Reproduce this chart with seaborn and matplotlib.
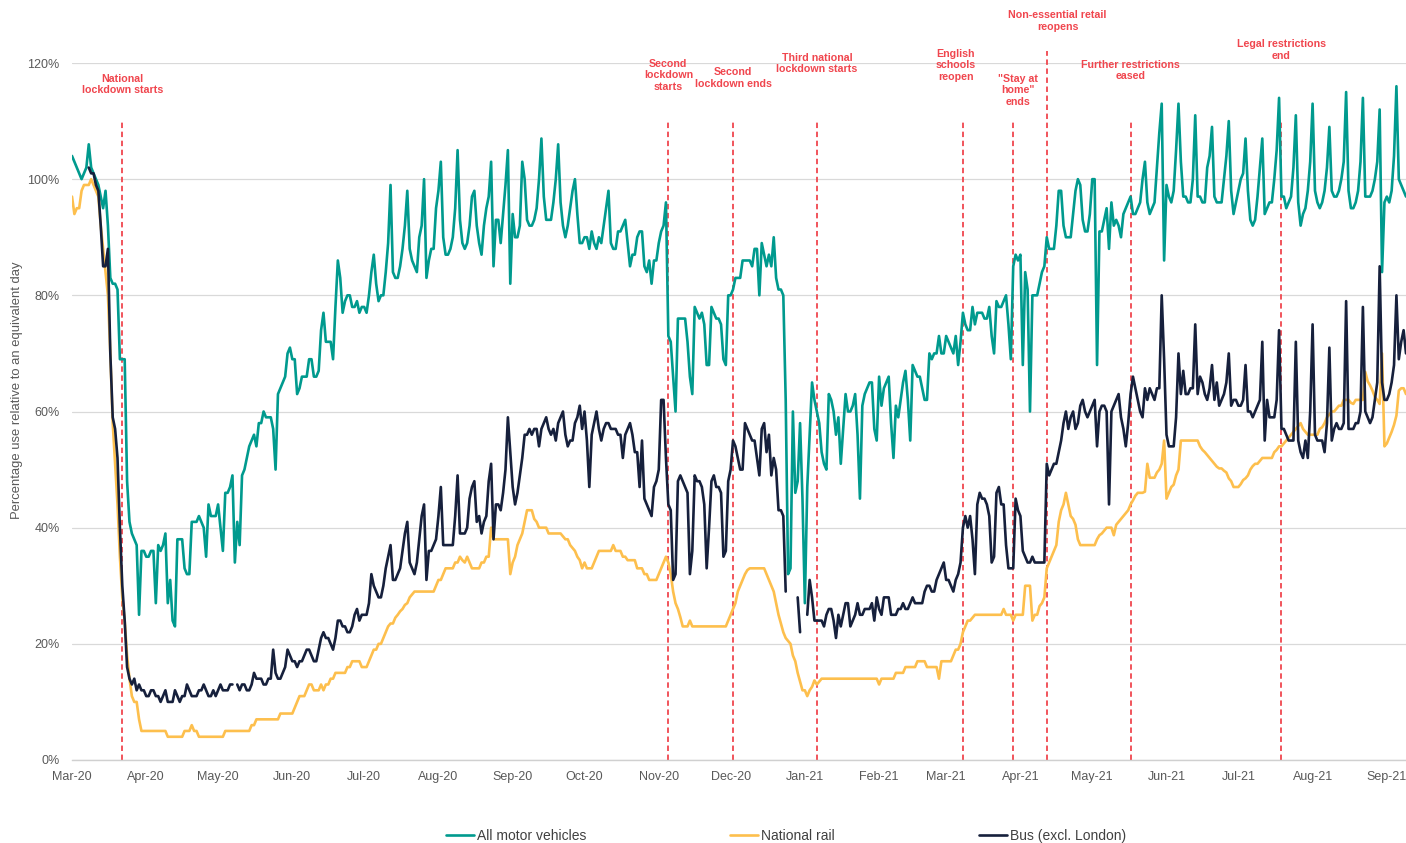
import numpy as np
import pandas as pd
import matplotlib
matplotlib.use("Agg")
import matplotlib.pyplot as plt
import matplotlib.dates as mdates
import seaborn as sns

nan = np.nan

# daily values from 1 March 2020, one row per week (Sun-Sat)
start_date = "2020-03-01"

motor = [
    104, 103, 102, 101, 100, 101, 102,
    106, 102, 101, 100, 99, 97, 95,
    98, 92, 83, 82, 82, 81, 69,
    69, 69, 48, 41, 39, 38, 37,
    25, 36, 36, 35, 35, 36, 36,
    27, 37, 36, 37, 39, 27, 31,
    24, 23, 38, 38, 38, 33, 32,
    32, 41, 41, 41, 42, 41, 40,
    35, 44, 42, 42, 42, 44, 40,
    36, 46, 46, 47, 49, 34, 41,
    37, 49, 50, 52, 54, 55, 56,
    54, 58, 58, 60, 59, 59, 59,
    57, 50, 63, 64, 65, 66, 70,
    71, 69, 69, 63, 64, 66, 66,
    66, 69, 69, 66, 66, 67, 74,
    77, 72, 72, 72, 69, 78, 86,
    83, 77, 79, 80, 80, 78, 78,
    79, 77, 78, 78, 77, 80, 84,
    87, 82, 79, 80, 80, 84, 89,
    99, 84, 83, 83, 85, 88, 92,
    98, 88, 86, 85, 84, 90, 92,
    100, 83, 86, 88, 88, 95, 98,
    103, 90, 87, 87, 88, 90, 95,
    105, 93, 89, 88, 89, 92, 97,
    98, 92, 89, 87, 92, 95, 97,
    103, 85, 93, 93, 89, 94, 99,
    105, 82, 94, 90, 90, 92, 103,
    100, 93, 92, 92, 93, 95, 100,
    107, 97, 93, 93, 93, 96, 100,
    106, 96, 92, 90, 92, 95, 98,
    100, 94, 89, 89, 90, 90, 88,
    91, 89, 88, 90, 89, 92, 95,
    98, 89, 88, 88, 91, 91, 92,
    93, 89, 85, 87, 87, 90, 91,
    91, 85, 84, 86, 82, 86, 86,
    89, 91, 92, 96, 73, 72, 66,
    60, 76, 76, 76, 76, 72, 66,
    63, 78, 77, 76, 77, 75, 68,
    68, 78, 77, 76, 76, 75, 69,
    68, 80, 80, 81, 83, 83, 83,
    86, 86, 86, 86, 85, 88, 88,
    80, 89, 87, 85, 87, 85, 90,
    83, 81, 81, 80, 62, 32, 33,
    60, 46, 48, 58, 45, 27, 47,
    56, 65, 62, 60, 58, 53, 51,
    50, 63, 62, 60, 56, 59, 51,
    57, 63, 60, 60, 61, 63, 56,
    45, 61, 63, 64, 65, 65, 57,
    55, 66, 61, 64, 65, 66, 58,
    52, 61, 59, 62, 65, 67, 62,
    55, 68, 67, 66, 66, 64, 62,
    62, 70, 69, 70, 70, 73, 70,
    70, 73, 72, 71, 70, 73, 68,
    72, 77, 75, 74, 74, 78, 75,
    77, 77, 77, 76, 76, 78, 73,
    70, 79, 78, 78, 79, 80, 75,
    69, 85, 87, 86, 87, 68, 84,
    81, 60, 80, 80, 80, 82, 84,
    85, 90, 88, 88, 88, 92, 98,
    98, 92, 90, 90, 90, 94, 98,
    100, 99, 93, 91, 91, 94, 100,
    100, 68, 91, 91, 93, 95, 88,
    96, 92, 93, 92, 90, 94, 95,
    96, 97, 94, 94, 95, 96, 100,
    103, 96, 94, 95, 96, 102, 108,
    113, 86, 99, 97, 96, 98, 105,
    113, 103, 97, 97, 96, 96, 100,
    111, 97, 97, 96, 96, 102, 104,
    109, 97, 96, 96, 96, 100, 104,
    110, 98, 94, 96, 98, 100, 101,
    107, 98, 93, 92, 93, 97, 102,
    107, 94, 95, 96, 96, 100, 105,
    114, 97, 97, 95, 96, 97, 102,
    111, 96, 92, 94, 95, 98, 103,
    113, 98, 96, 95, 96, 98, 102,
    109, 98, 97, 97, 98, 100, 103,
    115, 98, 95, 95, 96, 98, 103,
    114, 97, 97, 97, 98, 100, 103,
    112, 84, 96, 97, 96, 98, 104,
    116, 100, 99, 98, 97,
]

rail = [
    97, 94, 95, 95, 98, 99, 99,
    99, 100, 99, 98, 97, 92, 88,
    84, 80, 70, 58, 51, 44, 35,
    28, 24, 18, 14, 11, 10, 10,
    7, 5, 5, 5, 5, 5, 5,
    5, 5, 5, 5, 5, 4, 4,
    4, 4, 4, 4, 4, 5, 5,
    5, 6, 5, 5, 4, 4, 4,
    4, 4, 4, 4, 4, 4, 4,
    4, 5, 5, 5, 5, 5, 5,
    5, 5, 5, 5, 5, 6, 6,
    7, 7, 7, 7, 7, 7, 7,
    7, 7, 7, 8, 8, 8, 8,
    8, 8, 9, 10, 11, 11, 11,
    12, 13, 13, 12, 12, 12, 13,
    12, 13, 13, 14, 14, 15, 15,
    15, 15, 15, 16, 16, 17, 17,
    17, 17, 16, 16, 16, 17, 18,
    19, 19, 20, 20, 21, 22, 23,
    23.5, 23.5, 24.5, 25, 25.6, 26, 26.7,
    27, 28, 28.5, 29, 29, 29, 29,
    29, 29, 29, 29, 29, 30, 31,
    31, 32, 33, 33, 33, 33, 34,
    34, 35, 34.4, 34, 35, 34, 33,
    33, 33, 33, 34, 34, 35, 35,
    40, 38, 38, 38, 38, 38, 38,
    38, 32, 34, 35, 37, 38, 39,
    41, 43, 43, 43, 41.5, 41, 40,
    40, 40, 40, 39, 39, 39, 39,
    39, 39, 38.5, 38, 38, 37, 36.5,
    36, 35, 34.4, 33, 34, 33, 33,
    33, 34, 35, 36, 36, 36, 36,
    36, 36, 37, 36, 36, 36, 35,
    35, 34.4, 34.4, 34.4, 34.4, 33, 33,
    33, 32, 32, 31, 31, 31, 31,
    32, 33, 34, 35, 34, 32, 29,
    27, 26, 24.6, 23, 23, 23, 24,
    23, 23, 23, 23, 23, 23, 23,
    23, 23, 23, 23, 23, 23, 23,
    23, 24, 25, 26, 27, 29, 30,
    31, 32, 32.7, 33, 33, 33, 33,
    33, 33, 33, 32, 31, 30, 29,
    27, 25, 23.5, 22, 21, 20.5, 20,
    18, 17, 15, 13.5, 12, 12, 11,
    12, 12.6, 13.7, 13, 13.5, 14, 14,
    14, 14, 14, 14, 14, 14, 14,
    14, 14, 14, 14, 14, 14, 14,
    14, 14, 14, 14, 14, 14, 14,
    14, 13, 14, 14, 14, 14, 14,
    14, 15, 15, 15, 15, 16, 16,
    16, 16, 16, 17, 17, 17, 17,
    16, 16, 16, 16, 16, 14, 17,
    17, 17, 17, 17, 18, 19, 19,
    20, 22, 23, 24, 24, 24.5, 25,
    25, 25, 25, 25, 25, 25, 25,
    25, 25, 25, 25, 26, 25, 25,
    25, 24, 25, 25, 25, 25, 30,
    30, 30, 24, 25, 25, 26.5, 27,
    28, 33, 34, 35, 36, 37, 41,
    43, 44, 46, 44, 42, 41.5, 40.5,
    38, 37, 37, 37, 37, 37, 37,
    37, 38, 38.7, 39, 39.5, 40, 40,
    40, 38.7, 40.5, 41, 41.5, 42, 42.5,
    43, 44, 44.7, 45.5, 46, 46, 46,
    46.2, 51, 48.6, 48.6, 48.6, 49.5, 50,
    51, 55, 45, 46, 47, 47.4, 49,
    50, 55, 55, 55, 55, 55, 55,
    55, 55, 54, 53.4, 53, 52.5, 52,
    51.5, 51, 50.5, 50.2, 50.2, 49.8, 49.5,
    48.5, 48, 47, 47, 47, 47.5, 48.2,
    48.5, 49, 50, 50.6, 51, 51, 51.5,
    52, 52, 52, 52, 52, 53, 53.4,
    54, 54, 54.5, 55, 55.5, 56, 56.5,
    57, 57.5, 58, 57, 56.5, 56, 56,
    56, 56, 56, 57, 57.3, 58, 59,
    59.5, 60, 60, 60.5, 61, 61, 62,
    62, 62, 61.5, 61.3, 62, 62, 62,
    62, 66.8, 65.2, 64.5, 63.6, 62.5, 62,
    61.3, 70, 54, 54.5, 55.5, 56.5, 57.7,
    59.3, 63.6, 64, 64, 63,
]

bus = [
    nan, nan, nan, nan, nan, nan, nan,
    102, 101, 101, 99, 98, 92, 85,
    85, 88, 70, 59, 57, 52, 40,
    30, 24, 16, 14, 13, 14, 12,
    13, 12, 12, 11, 11, 12, 12,
    11, 11, 10, 11, 12, 10, 10,
    10, 12, 11, 10, 11, 11, 13,
    12, 11, 11, 11, 12, 12, 13,
    12, 11, 11, 12, 11, 12, 13,
    12, 12, 12, 13, 13, nan, 13,
    12, 13, 13, 12, 12, 13, 15,
    14, 14, 14, 13, 13, 14, 14,
    19, 15, 14, 14, 15, 16, 19,
    18, 17, 17, 16, 17, 17, 18,
    19, 19, 18, 17, 17, 19, 21,
    22, 21, 21, 20, 19, 21, 24,
    24, 23, 23, 22, 22, 23, 25,
    26, 24, 25, 25, 25, 27, 32,
    30, 29, 28, 28, 30, 33, 35,
    37, 31, 31, 32, 33, 36, 39,
    41, 34, 33, 32, 34, 38, 42,
    44, 31, 36, 36, 37, 38, 42,
    47, 37, 37, 37, 37, 37, 42,
    49, 39, 39, 39, 40, 45, 47,
    48, 41, 42, 39, 41, 42, 48,
    51, 38, 44, 44, 43, 46, 50,
    59, 53, 47, 44, 46, 49, 52,
    56, 56, 57, 56, 57, 57, 54,
    57, 58, 59, 57, 56, 57, 55,
    58, 59, 60, 56, 54, 55, 55,
    58, 59, 61, 57, 60, 55, 47,
    56, 58, 60, 57, 55, 57, 58,
    58, 57, 57, 57, 56, 56, 52,
    56, 57, 58, 56, 53, 53, 47,
    55, 45, 44, 43, 42, 47, 48,
    50, 62, 62, 52, 44, 43, 31,
    32, 48, 49, 48, 47, 46, 32,
    36, 49, 48, 48, 47, 44, 33,
    40, 48, 49, 47, 47, 46, 35,
    36, 48, 50, 55, 54, 52, 50,
    50, 58, 57, 56, 55, 55, 52,
    49, 57, 58, 53, 56, 49, 52,
    50, 43, 43, 42, 29, nan, nan,
    nan, nan, 28, 22, nan, nan, 25,
    31, 28, 24, 24, 24, 24, 23,
    25, 26, 26, 24, 21, 25, 23,
    25, 27, 27, 23, 24, 25, 27,
    25, 25, 26, 26, 26, 27, 24,
    28, 26, 25, 28, 28, 28, 25,
    25, 25, 26, 26, 27, 26, 26,
    27, 28, 27, 27, 27, 27, 29,
    30, 30, 29, 29, 31, 32, 33,
    34, 31, 31, 30, 29, 31, 32,
    34, 40, 42, 40, 42, 38, 32,
    44, 46, 45, 45, 44, 42, 34,
    35, 46, 47, 44, 44, 37, 33,
    33, 33, 45, 43, 42, 36, 35,
    34, 34, 35, 34, 34, 34, 34,
    34, 51, 49, 50, 51, 51, 53,
    55, 58, 60, 57, 59, 60, 57,
    58, 61, 62, 60, 59, 60, 61,
    62, 54, 60, 61, 61, 60, 44,
    60, 61, 62, 63, 59, 57, 54,
    58, 63, 66, 64, 62, 60, 59,
    64, 62, 64, 63, 62, 64, 64,
    80, 69, 56, 54, 54, 54, 59,
    70, 63, 67, 63, 63, 64, 64,
    75, 63, 66, 65, 63, 62, 64,
    68, 62, 65, 61, 62, 63, 65,
    70, 61, 62, 62, 61, 61, 62,
    68, 60, 60, 59, 60, 61, 62,
    72, 55, 62, 59, 59, 59, 62,
    74, 57, 57, 56, 55, 55, 55,
    72, 55, 53, 52, 55, 52, 60,
    75, 56, 55, 55, 55, 53, 58,
    71, 55, 57, 58, 57, 57, 58,
    79, 57, 57, 57, 58, 58, 60,
    78, 60, 59, 58, 59, 62, 65,
    85, 65, 62, 62, 63, 65, 68,
    80, 69, 72, 74, 70,
]

series_names = ["All motor vehicles", "National rail", "Bus (excl. London)"]
series_colours = ["#009a8e", "#fdbf4d", "#16203c"]

event_dates = ["2020-03-22", "2020-11-05", "2020-12-02", "2021-01-06",
               "2021-03-08", "2021-03-29", "2021-04-12", "2021-05-17",
               "2021-07-19"]
event_labels = ["National\nlockdown starts", "Second\nlockdown\nstarts",
                "Second\nlockdown ends", "Third national\nlockdown starts",
                "English\nschools\nreopen", "\"Stay at\nhome\"\nends",
                "Non-essential retail\nreopens", "Further restrictions\neased",
                "Legal restrictions\nend"]

# label placement (shift in days from the line, centre height in %) and top of each line
label_dx = [0, 0, 0, 0, -3, 2, 4.5, 0, 0]
label_y = [116.3, 117.9, 117.4, 119.9, 119.6, 115.3, 127.2, 118.7, 122.2]
line_top = [110, 110, 110, 110, 110, 110, 122, 110, 110]

red = "#f0464e"
grey = "#595959"

# long table, broken into pieces where a series has missing days
frames = []
for name, vals in zip(series_names, [motor, rail, bus]):
    s = pd.Series(vals, index=pd.date_range(start_date, periods=len(vals), freq="D"), dtype=float)
    part = pd.DataFrame({"date": s.index, "value": s.values, "series": name})
    part["piece"] = name + part["value"].isna().cumsum().astype(str)
    frames.append(part.dropna())
df = pd.concat(frames, ignore_index=True)

sns.set_style("white")
plt.rcParams["font.family"] = ["Liberation Sans", "DejaVu Sans"]

fig = plt.figure(figsize=(14.06, 8.43), dpi=100)
ax = fig.add_axes([72 / 1406, 83 / 843, 1334 / 1406, 697 / 843])

sns.lineplot(data=df, x="date", y="value", hue="series", hue_order=series_names,
             palette=series_colours, units="piece", estimator=None,
             linewidth=1.9, ax=ax)

ax.set_xlim(df["date"].min(), df["date"].max())
ax.set_ylim(0, 120)
ax.set_yticks(range(0, 121, 20))
ax.set_yticklabels([f"{v}%" for v in range(0, 121, 20)])
ax.grid(axis="y", color="#d9d9d9", linewidth=0.9)
ax.grid(axis="x", visible=False)
ax.set_axisbelow(True)

for side in ["top", "right", "left"]:
    ax.spines[side].set_visible(False)
ax.spines["bottom"].set_color("#d0d0d0")
ax.spines["bottom"].set_linewidth(1.0)

ax.xaxis.set_major_locator(mdates.MonthLocator())
ax.xaxis.set_major_formatter(mdates.DateFormatter("%b-%y"))
ax.xaxis.set_minor_locator(mdates.WeekdayLocator(byweekday=mdates.SU))
ax.tick_params(axis="x", which="major", length=5, color="#c8c8c8", labelsize=9, labelcolor=grey, pad=3)
ax.tick_params(axis="x", which="minor", length=3, color="#d0d0d0")
ax.tick_params(axis="y", length=0, labelsize=9, labelcolor=grey, pad=9)

ax.set_xlabel("")
ax.set_ylabel("Percentage use relative to an equivalent day", fontsize=9.4, color=grey)
ax.yaxis.set_label_coords(-0.037, 0.53)

# event markers
ev = pd.to_datetime(event_dates)
ax.vlines(ev, 0, line_top, colors=red, linestyles=(0, (3, 2)), linewidth=1.3, clip_on=False, zorder=1)
for d, lab, dx, y in zip(ev, event_labels, label_dx, label_y):
    ax.text(d + pd.Timedelta(days=dx), y, lab, ha="center", va="center",
            color=red, fontsize=7.7, fontweight="bold", linespacing=1.2)

handles, labels = ax.get_legend_handles_labels()
ax.legend_.remove()
fig.legend(handles, labels, loc="center", bbox_to_anchor=(0.559, 0.0083), ncol=3,
           frameon=False, fontsize=10, handlelength=2.0, handletextpad=0.2,
           columnspacing=10.4, labelcolor="#404040")

fig.savefig("out.png", dpi=100)
